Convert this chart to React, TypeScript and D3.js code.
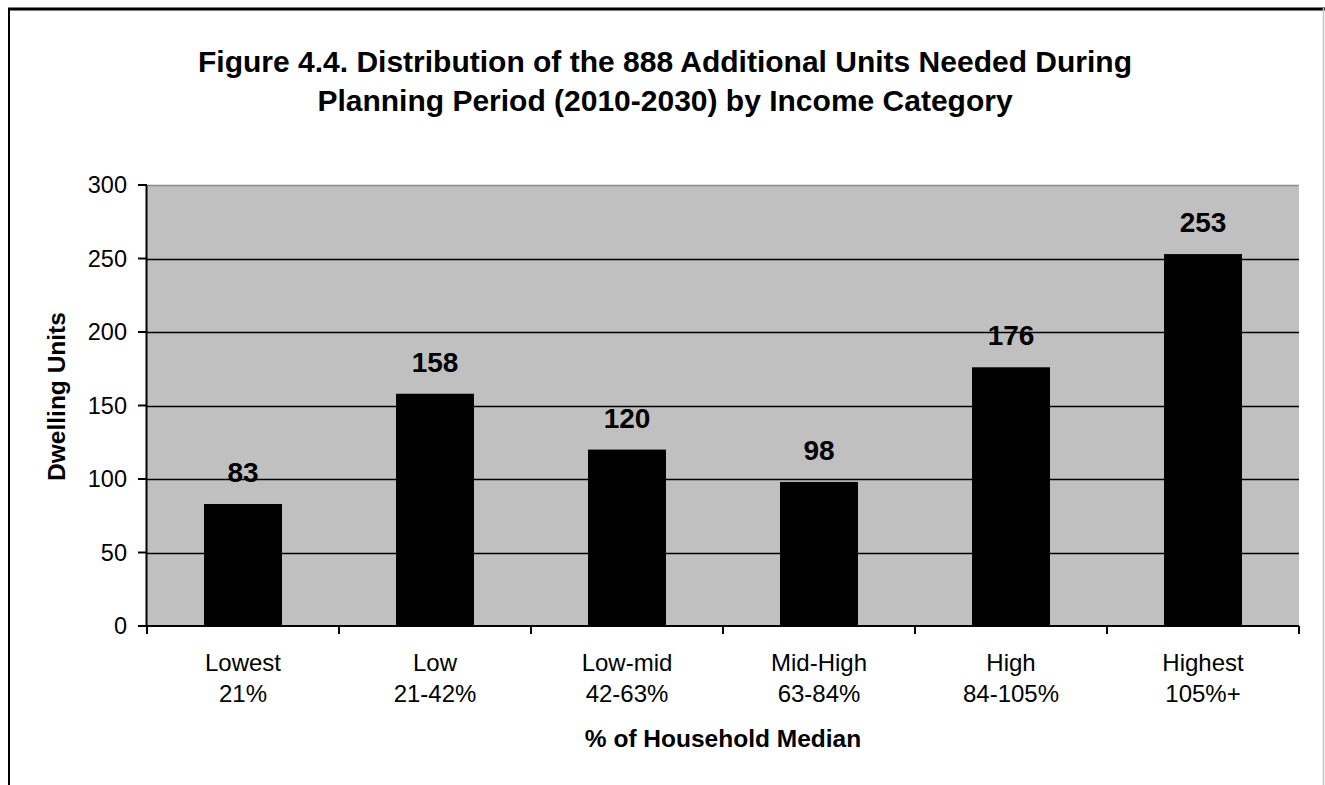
import React from 'react';
import * as d3 from 'd3';

// values
const categories = ['Lowest', 'Low', 'Low-mid', 'Mid-High', 'High', 'Highest'];
const ranges = ['21%', '21-42%', '42-63%', '63-84%', '84-105%', '105%+'];
const units = [83, 158, 120, 98, 176, 253];
const yTicks = [0, 50, 100, 150, 200, 250, 300];

const titleLines = [
  'Figure 4.4. Distribution of the 888 Additional Units Needed During',
  'Planning Period (2010-2030) by Income Category',
];

const W = 1325;
const H = 785;
const plot = { left: 147, right: 1299, top: 185, bottom: 626 };
const font = '"Liberation Sans", Arial, Helvetica, sans-serif';

export default function App() {
  const x = d3.scaleBand<string>()
    .domain(categories)
    .range([plot.left, plot.right])
    .padding(0);

  const y = d3.scaleLinear()
    .domain([0, 300])
    .range([plot.bottom, plot.top]);

  const barW = x.bandwidth() * 0.406;
  const bounds = categories.map((c) => x(c) as number).concat([plot.right]);

  return (
    <svg width={W} height={H} style={{ position: 'absolute', left: 0, top: 0 }} fontFamily={font}>
      <rect x={0} y={0} width={W} height={H} fill="#fff" />

      {/* frame, cut off at the bottom */}
      <line x1={8} x2={W} y1={9} y2={9} stroke="#000" strokeWidth={3} />
      <line x1={9} x2={9} y1={8} y2={H} stroke="#000" strokeWidth={2} />
      <line x1={1323.5} x2={1323.5} y1={8} y2={H} stroke="#c4c4c4" strokeWidth={1.5} />

      {titleLines.map((t, i) => (
        <text key={i} x={665} y={72 + i * 39} textAnchor="middle" fontSize={30} fontWeight="bold">{t}</text>
      ))}

      {/* plot area */}
      <rect x={plot.left} y={plot.top} width={plot.right - plot.left} height={plot.bottom - plot.top} fill="#c0c0c0" />
      {yTicks.filter((v) => v > 0).map((v) => (
        <line key={v} x1={plot.left} x2={plot.right} y1={Math.round(y(v)) + 0.5} y2={Math.round(y(v)) + 0.5}
          stroke={v === 300 ? '#8a8a8a' : '#000'} strokeWidth={v === 300 ? 1.5 : 1.3} />
      ))}

      {units.map((v, i) => {
        const cx = (x(categories[i]) as number) + x.bandwidth() / 2;
        return (
          <g key={i}>
            <rect x={cx - barW / 2} y={y(v)} width={barW} height={plot.bottom - y(v)} fill="#000" />
            <text x={cx} y={y(v) - 22} textAnchor="middle" fontSize={28} fontWeight="bold">{v}</text>
          </g>
        );
      })}

      {/* y axis */}
      <line x1={plot.left - 0.5} x2={plot.left - 0.5} y1={plot.top} y2={plot.bottom} stroke="#000" strokeWidth={2} />
      {yTicks.map((v) => (
        <g key={v}>
          <line x1={plot.left - 9} x2={plot.left} y1={y(v)} y2={y(v)} stroke="#000" strokeWidth={2} />
          <text x={127} y={y(v)} dy="0.36em" textAnchor="end" fontSize={23.5}>{v}</text>
        </g>
      ))}
      <text transform={`translate(65,${(plot.top + plot.bottom) / 2 - 9}) rotate(-90)`} textAnchor="middle"
        fontSize={24.5} fontWeight="bold">Dwelling Units</text>

      {/* x axis */}
      <line x1={plot.left - 1} x2={plot.right} y1={plot.bottom} y2={plot.bottom} stroke="#000" strokeWidth={2} />
      {bounds.map((bx, i) => (
        <line key={i} x1={bx} x2={bx} y1={plot.bottom} y2={plot.bottom + 8} stroke="#000" strokeWidth={2} />
      ))}
      {categories.map((c, i) => {
        const cx = (x(c) as number) + x.bandwidth() / 2;
        return (
          <g key={c}>
            <text x={cx} y={671} textAnchor="middle" fontSize={24}>{c}</text>
            <text x={cx} y={702} textAnchor="middle" fontSize={24}>{ranges[i]}</text>
          </g>
        );
      })}
      <text x={(plot.left + plot.right) / 2} y={747} textAnchor="middle" fontSize={24.5} fontWeight="bold">% of Household Median</text>
    </svg>
  );
}
